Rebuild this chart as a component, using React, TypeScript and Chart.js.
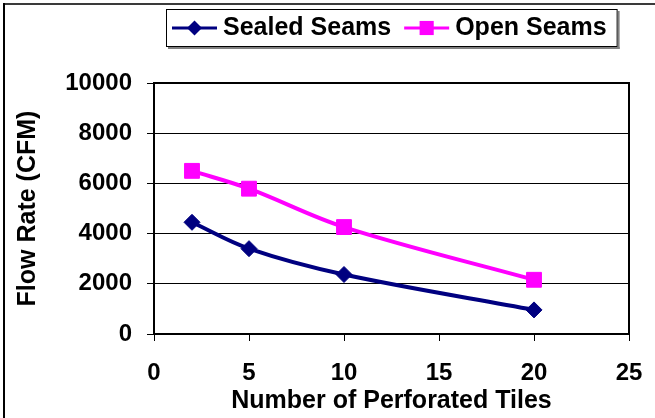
import React, { useEffect, useRef } from 'react';
import { Chart, registerables } from 'chart.js';

Chart.register(...registerables);

// ---- Data ----
const tiles = [2, 5, 10, 20];
const sealedSeams = [4450, 3400, 2370, 960];
const openSeams = [6500, 5790, 4260, 2160];
const seriesNames = ['Sealed Seams', 'Open Seams'];
const xTicks = [0, 5, 10, 15, 20, 25];
const yTicks = [0, 2000, 4000, 6000, 8000, 10000];
const xTitle = 'Number of Perforated Tiles';
const yTitle = 'Flow Rate (CFM)';

const W = 655;
const H = 418;
const FONT = '"Liberation Sans", Arial, Helvetica, sans-serif';

const framePlugin = {
  id: 'frame',
  beforeDraw(chart: any) {
    const ctx = chart.ctx;
    ctx.save();
    ctx.fillStyle = '#ffffff';
    ctx.fillRect(0, 0, chart.width, chart.height);
    ctx.restore();
  },
  beforeDatasetsDraw(chart: any) {
    const { ctx, chartArea: a } = chart;
    ctx.save();
    ctx.strokeStyle = '#000000';
    ctx.lineWidth = 2;
    ctx.strokeRect(a.left, a.top, a.right - a.left, a.bottom - a.top);
    ctx.restore();
  },
  afterDraw(chart: any) {
    const ctx = chart.ctx;
    ctx.save();
    ctx.fillStyle = '#3a3a3a';
    ctx.fillRect(3, 3, chart.width - 3, 2);
    ctx.fillStyle = '#000000';
    ctx.fillRect(3, 3, 2, chart.height - 3);
    ctx.restore();
  },
};

function drawMarker(ctx: CanvasRenderingContext2D, style: string, x: number, y: number, r: number, color: string) {
  ctx.fillStyle = color;
  ctx.beginPath();
  if (style === 'rectRot') {
    ctx.moveTo(x - r, y);
    ctx.lineTo(x, y - r);
    ctx.lineTo(x + r, y);
    ctx.lineTo(x, y + r);
  } else {
    const s = r * Math.SQRT1_2;
    ctx.rect(x - s, y - s, 2 * s, 2 * s);
  }
  ctx.closePath();
  ctx.fill();
}

const legendPlugin = {
  id: 'boxLegend',
  afterDraw(chart: any) {
    const { ctx, chartArea: area } = chart;
    ctx.save();
    ctx.font = `bold 25px ${FONT}`;
    const lineLen = 45;
    const padL = 6;
    const gapLT = 6;
    const itemGap = 13;
    const padR = 11;
    const items = chart.data.datasets.map((ds: any) => ({
      label: ds.label,
      color: ds.borderColor,
      style: ds.pointStyle,
      r: ds.legendMarkerRadius,
      w: ctx.measureText(ds.label).width,
    }));
    let total = padL + padR;
    items.forEach((it: any, i: number) => {
      total += lineLen + gapLT + it.w + (i > 0 ? itemGap : 0);
    });
    const top = 9;
    const bottom = 47;
    const left = Math.round((area.left + area.right) / 2 - total / 2);
    ctx.fillStyle = '#808080';
    ctx.fillRect(left + 2, bottom, total, 2);
    ctx.fillRect(left + total, top + 2, 2, bottom - top);
    ctx.fillStyle = '#ffffff';
    ctx.fillRect(left, top, total, bottom - top);
    ctx.strokeStyle = '#000000';
    ctx.lineWidth = 1;
    ctx.strokeRect(left + 0.5, top + 0.5, total - 1, bottom - top - 1);
    const cy = (top + bottom) / 2;
    let x = left + padL;
    items.forEach((it: any, i: number) => {
      if (i > 0) x += itemGap;
      ctx.strokeStyle = it.color;
      ctx.lineWidth = 3;
      ctx.beginPath();
      ctx.moveTo(x, cy);
      ctx.lineTo(x + lineLen, cy);
      ctx.stroke();
      drawMarker(ctx, it.style, x + lineLen / 2, cy, it.r, it.color);
      x += lineLen + gapLT;
      ctx.fillStyle = '#000000';
      ctx.textBaseline = 'middle';
      ctx.textAlign = 'left';
      ctx.fillText(it.label, x, cy);
      x += it.w;
    });
    ctx.restore();
  },
};

export default function App() {
  const ref = useRef<HTMLCanvasElement | null>(null);

  useEffect(() => {
    if (!ref.current) return;
    const toPoints = (vals: number[]) => tiles.map((t, i) => ({ x: t, y: vals[i] }));
    const chart = new Chart(ref.current, {
      type: 'line',
      data: {
        datasets: [
          {
            label: seriesNames[0],
            data: toPoints(sealedSeams),
            borderColor: '#000080',
            backgroundColor: '#000080',
            borderWidth: 4,
            pointStyle: 'rectRot',
            pointRadius: 8,
            pointBorderWidth: 1,
            tension: 0.35,
            legendMarkerRadius: 7.5,
          } as any,
          {
            label: seriesNames[1],
            data: toPoints(openSeams),
            borderColor: '#FF00FF',
            backgroundColor: '#FF00FF',
            borderWidth: 4,
            pointStyle: 'rect',
            pointRadius: 10.5,
            pointBorderWidth: 1,
            tension: 0.35,
            legendMarkerRadius: 10,
          } as any,
        ],
      },
      options: {
        responsive: false,
        animation: false,
        devicePixelRatio: 1,
        layout: { padding: { left: 0, right: W - 629, top: 83, bottom: 0 } },
        plugins: {
          legend: { display: false },
          tooltip: { enabled: false },
        },
        scales: {
          x: {
            type: 'linear',
            min: xTicks[0],
            max: xTicks[xTicks.length - 1],
            ticks: {
              stepSize: xTicks[1] - xTicks[0],
              color: '#000000',
              font: { family: FONT, size: 24, weight: 'bold' },
              padding: 18,
              maxRotation: 0,
              callback: (v: any) => String(v),
            },
            grid: {
              drawOnChartArea: false,
              drawTicks: true,
              tickLength: 7,
              tickColor: '#000000',
              tickWidth: 1,
            },
            border: { display: false },
            title: {
              display: true,
              text: xTitle,
              color: '#000000',
              font: { family: FONT, size: 25, weight: 'bold' },
              padding: { top: 0, bottom: 2 },
            },
            afterFit(scale: any) {
              scale.height = H - 334;
              scale.paddingLeft = 0;
              scale.paddingRight = 0;
            },
          },
          y: {
            type: 'linear',
            min: yTicks[0],
            max: yTicks[yTicks.length - 1],
            ticks: {
              stepSize: yTicks[1] - yTicks[0],
              color: '#000000',
              font: { family: FONT, size: 24, weight: 'bold' },
              padding: 15,
              callback: (v: any) => String(v),
            },
            grid: {
              color: '#000000',
              lineWidth: 1,
              drawTicks: true,
              tickLength: 7,
              tickColor: '#000000',
            },
            border: { display: false },
            title: {
              display: true,
              text: yTitle,
              color: '#000000',
              font: { family: FONT, size: 25, weight: 'bold' },
              padding: { top: 13, bottom: 0 },
            },
            afterFit(scale: any) {
              scale.width = 154;
              scale.paddingTop = 0;
              scale.paddingBottom = 0;
            },
          },
        },
      },
      plugins: [framePlugin, legendPlugin],
    } as any);
    return () => chart.destroy();
  }, []);

  return (
    <div style={{ position: 'absolute', left: 0, top: 0, width: W, height: H }}>
      <canvas ref={ref} width={W} height={H} style={{ display: 'block', width: W, height: H }} />
    </div>
  );
}
